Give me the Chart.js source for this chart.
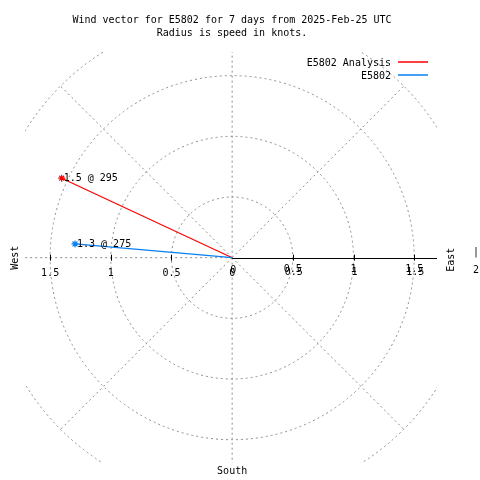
<!DOCTYPE html>
<html>
<head>
<meta charset="utf-8">
<script src="https://cdn.jsdelivr.net/npm/chart.js@4"></script>
<style>
  html, body { margin: 0; padding: 0; background: #ffffff; }
  canvas { display: block; }
</style>
</head>
<body>
<canvas id="c" width="480" height="480"></canvas>
<script>
// ---- data ----
const titleLines = ['Wind vector for E5802 for 7 days from 2025-Feb-25 UTC', 'Radius is speed in knots.'];
const seriesNames = ['E5802 Analysis', 'E5802'];
const speeds = [1.55, 1.3];          // knots
const directions = [295, 275];       // degrees (compass)
const pointLabels = ['1.5 @ 295', '1.3 @ 275'];
const seriesColors = ['#ff0000', '#0a7ff0'];
const gridRadii = [0.5, 1, 1.5, 2];
const gridAngles = [0, 45, 90, 135, 180, 225, 270, 315];
const tickValues = [0.5, 1, 1.5];
const leftTickLabels = ['1.5', '1', '0.5', '0'];
const leftTickValues = [1.5, 1, 0.5, 0];
const rightTickLabels = ['0.5', '1', '1.5'];
const rightTickValues = [0.5, 1, 1.5];

const FONT = '10px "DejaVu Sans Mono", "Liberation Mono", monospace';
const GRID = '#8c8c8c';

function toXY(r, deg) {
  const a = deg * Math.PI / 180;
  return { x: r * Math.sin(a), y: r * Math.cos(a) };
}

const datasets = seriesNames.map((name, i) => {
  const tip = toXY(speeds[i], directions[i]);
  return {
    label: name,
    data: [{ x: 0, y: 0 }, tip],
    showLine: true,
    borderColor: seriesColors[i],
    backgroundColor: seriesColors[i],
    borderWidth: 1.2,
    pointStyle: 'star',
    pointRadius: [0, 3.5],
    pointBorderWidth: 1.2,
    pointBorderColor: seriesColors[i],
    order: i === 0 ? 1 : 0
  };
});

const polarPlugin = {
  id: 'polarGrid',
  beforeDatasetsDraw(chart) {
    const ctx = chart.ctx;
    const xs = chart.scales.x, ys = chart.scales.y;
    const ca = chart.chartArea;
    const cx = xs.getPixelForValue(0), cy = ys.getPixelForValue(0);
    const unit = xs.getPixelForValue(1) - cx;
    ctx.save();
    ctx.beginPath();
    ctx.rect(ca.left, ca.top, ca.right - ca.left, ca.bottom - ca.top);
    ctx.clip();
    ctx.strokeStyle = GRID;
    ctx.lineWidth = 1;
    ctx.setLineDash([2, 3]);
    gridRadii.forEach(r => {
      ctx.beginPath();
      ctx.arc(cx, cy, r * unit, 0, Math.PI * 2);
      ctx.stroke();
    });
    const rMax = gridRadii[gridRadii.length - 1];
    gridAngles.forEach(a => {
      if (a === 90) return; // east half drawn as solid axis
      const p = toXY(rMax, a);
      ctx.beginPath();
      ctx.moveTo(cx, cy);
      ctx.lineTo(xs.getPixelForValue(p.x), ys.getPixelForValue(p.y));
      ctx.stroke();
    });
    ctx.setLineDash([]);
    // solid axis to the east
    ctx.strokeStyle = '#000';
    ctx.beginPath();
    ctx.moveTo(cx, Math.round(cy) + 0.5);
    ctx.lineTo(ca.right, Math.round(cy) + 0.5);
    ctx.stroke();
    // tick marks both sides
    tickValues.forEach(v => {
      [v, -v].forEach(vv => {
        const px = Math.round(xs.getPixelForValue(vv)) + 0.5;
        ctx.beginPath();
        ctx.moveTo(px, cy - 3);
        ctx.lineTo(px, cy + 3);
        ctx.stroke();
      });
    });
    ctx.restore();

    // tick labels
    ctx.save();
    ctx.font = FONT;
    ctx.fillStyle = '#000';
    ctx.textAlign = 'center';
    ctx.textBaseline = 'middle';
    leftTickLabels.forEach((t, i) => {
      const px = xs.getPixelForValue(-leftTickValues[i]);
      ctx.fillText(t, px, cy + 16);
      if (leftTickValues[i] === 0) ctx.fillText(t, px + 1, cy + 13);
    });
    rightTickLabels.forEach((t, i) => {
      const px = xs.getPixelForValue(rightTickValues[i]);
      ctx.fillText(t, px, cy + 12);
      ctx.fillText(t, px + 1, cy + 15);
    });
    // compass labels
    ctx.fillText('South', cx, 471);
    ctx.fillText('2', 476, cy + 13);
    ctx.fillText('|', 476, cy - 5);
    ctx.save();
    ctx.translate(15, cy);
    ctx.rotate(-Math.PI / 2);
    ctx.fillText('West', 0, 0);
    ctx.restore();
    ctx.save();
    ctx.translate(451, cy + 2);
    ctx.rotate(-Math.PI / 2);
    ctx.fillText('East', 0, 0);
    ctx.restore();
    ctx.restore();
  },
  afterDraw(chart) {
    const ctx = chart.ctx;
    const xs = chart.scales.x, ys = chart.scales.y;
    ctx.save();
    ctx.font = FONT;
    ctx.fillStyle = '#000';
    // title
    ctx.textAlign = 'center';
    ctx.textBaseline = 'middle';
    ctx.fillText(titleLines[0], 232, 20);
    ctx.fillText(titleLines[1], 232, 33);
    // point labels
    ctx.textAlign = 'left';
    chart.data.datasets.forEach((ds, i) => {
      const tip = ds.data[1];
      ctx.fillText(pointLabels[i], xs.getPixelForValue(tip.x) + 2, ys.getPixelForValue(tip.y));
    });
    // legend
    ctx.textAlign = 'right';
    seriesNames.forEach((n, i) => {
      const y = 63 + i * 13;
      ctx.fillStyle = '#000';
      ctx.fillText(n, 391, y);
      ctx.strokeStyle = seriesColors[i];
      ctx.lineWidth = 1.5;
      ctx.beginPath();
      ctx.moveTo(398, y - 1);
      ctx.lineTo(428, y - 1);
      ctx.stroke();
    });
    ctx.restore();
  }
};

new Chart(document.getElementById('c'), {
  type: 'scatter',
  data: { datasets },
  options: {
    responsive: false,
    animation: false,
    layout: { padding: { left: 25, top: 52, right: 43, bottom: 17 } },
    scales: {
      x: { type: 'linear', min: -1.707, max: 1.688, display: false },
      y: { type: 'linear', min: -1.692, max: 1.695, display: false }
    },
    plugins: { legend: { display: false }, title: { display: false }, tooltip: { enabled: false } },
    clip: false
  },
  plugins: [polarPlugin]
});
</script>
</body>
</html>
